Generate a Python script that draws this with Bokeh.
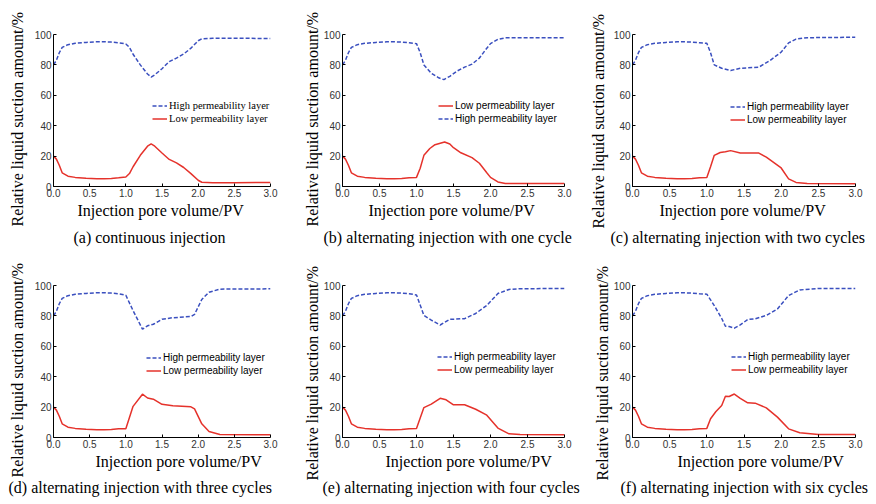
from bokeh.plotting import figure
from bokeh.layouts import column, row
from bokeh.models import Range1d, Title, Legend, LegendItem, FixedTicker, PrintfTickFormatter
from bokeh.embed import file_html
from bokeh.resources import INLINE

# ---------------- data ----------------
x_early = [0, 0.04, 0.08, 0.12, 0.2, 0.3, 0.45, 0.6, 0.7, 0.8, 0.9]
high_early = [80, 83, 88, 91.5, 93.3, 94.2, 94.8, 95.2, 95.2, 95.0, 94.6]
low_early = [20, 18, 14, 9, 6.8, 6.0, 5.4, 5.1, 5.1, 5.3, 5.7]

# (a) continuous injection
xa_h = [1.0, 1.05, 1.1, 1.2, 1.3, 1.35, 1.4, 1.5, 1.6, 1.7, 1.8, 1.9, 2.0, 2.05, 2.2, 2.5, 3.0]
ha = [93.8, 91.5, 87, 80, 74, 72, 73.5, 77.5, 82.2, 84.5, 87.2, 91, 95.9, 97.2, 97.5, 97.5, 97.4]
xa_l = [1.0, 1.05, 1.1, 1.2, 1.3, 1.35, 1.4, 1.5, 1.6, 1.7, 1.8, 1.9, 2.0, 2.05, 2.2, 2.5, 3.0]
la = [6.2, 8.5, 13, 20.5, 26.5, 28, 26.5, 22, 17.8, 15.5, 12.5, 8.5, 4.1, 2.8, 2.5, 2.5, 2.6]

# (b) one cycle
xb_h = [1.0, 1.05, 1.1, 1.2, 1.3, 1.37, 1.45, 1.55, 1.65, 1.75, 1.85, 1.95, 2.0, 2.1, 2.2, 3.0]
hb = [94, 88, 80, 74.5, 71.5, 70.3, 72.5, 76, 78.5, 80.5, 84.5, 91, 94, 96.8, 97.8, 97.9]
xb_l = [1.0, 1.05, 1.1, 1.18, 1.25, 1.38, 1.45, 1.5, 1.6, 1.75, 1.85, 1.95, 2.0, 2.1, 2.2, 3.0]
lb = [6.0, 12, 20.5, 25, 27.5, 29.3, 28, 25.5, 22.2, 19, 15.3, 9, 6, 3, 2, 2]

# (c) two cycles
xc_h = [1.0, 1.05, 1.1, 1.2, 1.32, 1.45, 1.7, 1.85, 2.0, 2.1, 2.2, 2.35, 3.0]
hc = [94.2, 88, 80, 77.8, 76.3, 77.8, 78.5, 82.9, 88.4, 94.5, 97, 97.9, 98.2]
xc_l = [1.0, 1.05, 1.1, 1.18, 1.25, 1.32, 1.45, 1.7, 1.8, 2.0, 2.1, 2.2, 2.35, 3.0]
lc = [6.0, 13, 20.5, 22.4, 22.8, 23.6, 22, 22, 19.3, 12.2, 5, 2.7, 2, 1.8]

# (d) three cycles
xd_h = [1.0, 1.1, 1.23, 1.3, 1.38, 1.5, 1.65, 1.9, 1.95, 2.05, 2.15, 2.3, 3.0]
hd = [93.6, 83.5, 71.3, 73.5, 74.5, 77.8, 78.8, 79.6, 81, 90.8, 95.6, 97.6, 97.8]
xd_l = [1.0, 1.1, 1.23, 1.3, 1.38, 1.5, 1.65, 1.9, 1.95, 2.05, 2.15, 2.3, 3.0]
ld = [5.8, 20.5, 28.5, 26, 25.2, 21.8, 20.9, 20.2, 18.8, 9, 4, 2, 1.8]

# (e) four cycles
xe_h = [1.0, 1.1, 1.2, 1.32, 1.45, 1.65, 1.8, 1.95, 2.1, 2.25, 2.4, 3.0]
he = [93.8, 80.3, 77.2, 74, 77.7, 78.2, 81.6, 86.9, 94.7, 97.4, 97.9, 98]
xe_l = [1.0, 1.1, 1.2, 1.32, 1.4, 1.5, 1.65, 1.8, 1.95, 2.1, 2.25, 2.4, 3.0]
le = [6.0, 19.7, 22, 25.8, 24.8, 21.5, 21.5, 18.6, 14.7, 6.2, 2.4, 1.9, 1.8]

# (f) six cycles
xf_h = [1.0, 1.1, 1.2, 1.25, 1.3, 1.37, 1.45, 1.55, 1.65, 1.8, 1.95, 2.1, 2.25, 2.5, 3.0]
hf = [94.3, 86.8, 78.3, 73.2, 73, 71.9, 74.1, 77.6, 78.1, 80.3, 84.6, 93.4, 97.1, 98, 98]
xf_l = [1.0, 1.05, 1.12, 1.2, 1.25, 1.3, 1.37, 1.45, 1.55, 1.65, 1.8, 1.95, 2.1, 2.25, 2.5, 3.0]
lf = [6.0, 12.3, 16.9, 21, 27.2, 27, 28.6, 25.8, 22.8, 22.6, 19.5, 13.4, 5.7, 3.1, 2, 2]

captions = [
    "(a) continuous injection",
    "(b) alternating injection with one cycle",
    "(c) alternating injection with two cycles",
    "(d) alternating injection with three cycles",
    "(e) alternating injection with four cycles",
    "(f) alternating injection with six cycles",
]
x_ticks = [0, 0.5, 1.0, 1.5, 2.0, 2.5, 3.0]
y_ticks = [0, 20, 40, 60, 80, 100]
y_title = "Relative liquid suction amount/%"
x_title = "Injection pore volume/PV"
high_name = "High permeability layer"
low_name = "Low permeability layer"

BLUE = "#3a4fbf"
RED = "#e5322b"
SERIF = "Liberation Serif"
SANS = "Liberation Sans"


def panel(xh, h, xl, l, caption, width, height, bl, br, bt, bb,
          ytoff, ytstand, xtoff, capoff, capstand, leg_x, leg_y, high_first, leg_font, leg_size):
    p = figure(width=width, height=height, output_backend="svg", toolbar_location=None,
               x_range=Range1d(0, 3), y_range=Range1d(0, 100),
               min_border_left=bl, min_border_right=br, min_border_top=bt, min_border_bottom=bb)
    p.outline_line_color = None
    p.grid.visible = False
    p.background_fill_color = "white"
    p.border_fill_color = "white"
    for ax in (p.xaxis[0], p.yaxis[0]):
        ax.axis_line_color = "black"
        ax.axis_line_width = 1
        ax.major_tick_line_color = "black"
        ax.major_tick_in = 3
        ax.major_tick_out = 0
        ax.minor_tick_line_color = None
        ax.major_label_text_font = SANS
        ax.major_label_text_font_size = "10px"
        ax.major_label_text_color = "#333333"
    p.xaxis.ticker = FixedTicker(ticks=x_ticks)
    p.xaxis.formatter = PrintfTickFormatter(format="%.1f")
    p.xaxis.major_label_standoff = 2
    p.yaxis.ticker = FixedTicker(ticks=y_ticks)
    p.yaxis.major_label_standoff = 2

    rh = p.line(x_early + xh, high_early + h, line_color=BLUE, line_width=1.5, line_dash="4 2")
    rl = p.line(x_early + xl, low_early + l, line_color=RED, line_width=1.5)

    p.add_layout(Title(text=y_title, align="left", offset=ytoff, standoff=ytstand,
                       text_font=SERIF, text_font_size="16px", text_font_style="normal",
                       text_color="black"), "left")
    p.add_layout(Title(text=x_title, align="left", offset=xtoff, standoff=0,
                       text_font=SERIF, text_font_size="16px", text_font_style="normal",
                       text_color="black"), "below")
    p.add_layout(Title(text=caption, align="left", offset=capoff, standoff=capstand,
                       text_font=SERIF, text_font_size="16px", text_font_style="normal",
                       text_color="black"), "below")

    ih = LegendItem(label=high_name, renderers=[rh])
    il = LegendItem(label=low_name, renderers=[rl])
    items = [ih, il] if high_first else [il, ih]
    leg = Legend(items=items, location=(leg_x, leg_y), padding=0, spacing=0, margin=0,
                 glyph_width=15, glyph_height=13, label_height=13, label_standoff=2,
                 label_text_font=leg_font, label_text_font_size=leg_size,
                 label_text_color="black", border_line_color=None,
                 background_fill_alpha=0)
    p.add_layout(leg, "center")
    return p


# top row: frames y 34..187 ; bottom row: frames y 285..437
pa = panel(xa_h, ha, xa_l, la, captions[0], 293, 253, 51, 23, 34, 66,
           -40, 12, 24, 20, 16, 99, 61, True, SERIF, "10.5px")
pb = panel(xb_h, hb, xb_l, lb, captions[1], 290, 253, 49, 19, 34, 66,
           -40, 0, 26, -19, 16, 96, 61, False, SANS, "10px")
pc = panel(xc_h, hc, xc_l, lc, captions[2], 291, 253, 49, 19, 34, 66,
           -42, 7, 27, -22, 16, 98, 60, True, SANS, "10px")
pd = panel(xd_h, hd, xd_l, ld, captions[3], 293, 250, 51, 23, 32, 66,
           -40, 12, 42, -45, 14, 93, 60, True, SANS, "10px")
pe = panel(xe_h, he, xe_l, le, captions[4], 290, 250, 49, 19, 32, 66,
           -43, 0, 43, -20, 14, 95, 61, True, SANS, "10px")
pf = panel(xf_h, hf, xf_l, lf, captions[5], 291, 250, 49, 19, 32, 66,
           -43, 0, 45, -12, 14, 99, 61, True, SANS, "10px")

layout = column(row(pa, pb, pc), row(pd, pe, pf))
open("out.html", "w").write(file_html(layout, INLINE))
